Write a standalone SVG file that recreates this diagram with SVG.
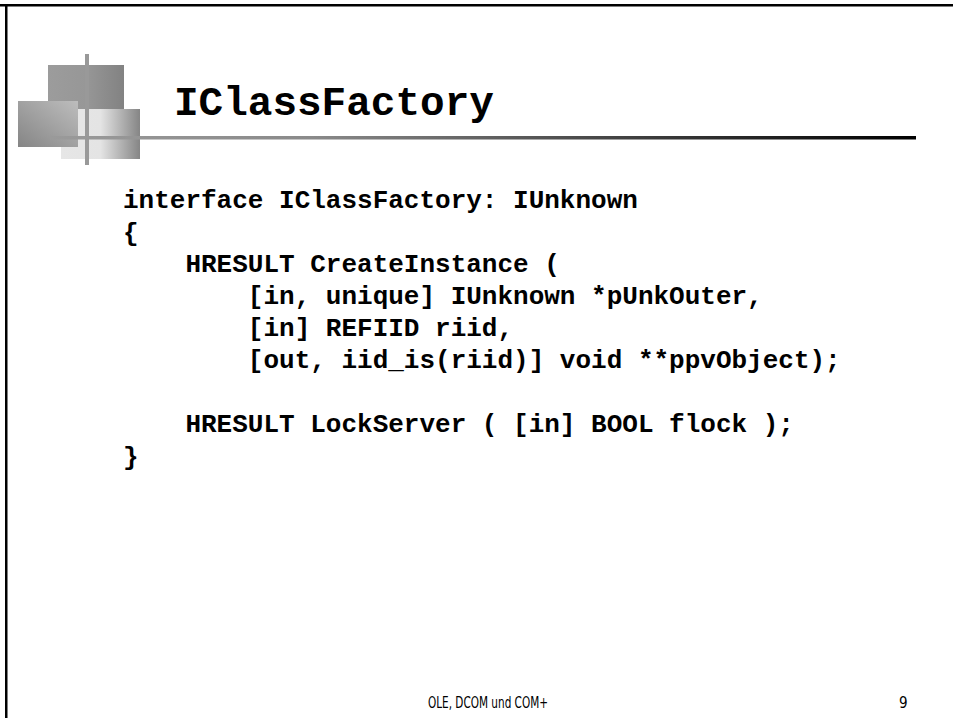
<svg xmlns="http://www.w3.org/2000/svg" width="953" height="718" viewBox="0 0 953 718">
<style>
.code{font-family:"Liberation Mono","Courier New",monospace;font-weight:bold;font-size:26px;fill:#000;white-space:pre}
.title{font-family:"Liberation Mono","Courier New",monospace;font-weight:bold;font-size:41px;fill:#000}
.foot{font-family:"DejaVu Sans Condensed","DejaVu Sans",sans-serif;font-size:15px;fill:#000}
</style>
<defs>
<linearGradient id="gTop" x1="0" y1="0" x2="1" y2="0">
<stop offset="0" stop-color="#9c9c9c"/><stop offset="0.5" stop-color="#979797"/><stop offset="1" stop-color="#828282"/>
</linearGradient>
<linearGradient id="gLeft" x1="0" y1="1" x2="1" y2="0">
<stop offset="0" stop-color="#858585"/><stop offset="1" stop-color="#bdbdbd"/>
</linearGradient>
<linearGradient id="gLight" x1="0" y1="0" x2="1" y2="0">
<stop offset="0" stop-color="#e6e6e6"/><stop offset="0.5" stop-color="#e4e4e4"/><stop offset="1" stop-color="#858585"/>
</linearGradient>
<linearGradient id="gLine" x1="50" y1="0" x2="916" y2="0" gradientUnits="userSpaceOnUse">
<stop offset="0" stop-color="#9a9a9a"/><stop offset="0.3" stop-color="#8a8a8a"/><stop offset="0.65" stop-color="#444"/><stop offset="1" stop-color="#000"/>
</linearGradient>
</defs>
<rect width="953" height="718" fill="#fff"/>
<g id="frame">
<rect x="0" y="4" width="953" height="2.5" fill="#000"/>
<rect x="5" y="4" width="2.5" height="714" fill="#000"/>
</g>
<g id="logo">
<rect x="48" y="65" width="76" height="45" fill="url(#gTop)"/>
<rect x="61" y="109" width="79" height="50" fill="url(#gLight)"/>
<rect x="18" y="101" width="60" height="46" fill="url(#gLeft)"/>
<rect x="85" y="54" width="4" height="111" fill="#999"/>
<rect x="50" y="136" width="866" height="3.5" fill="url(#gLine)"/>
</g>
<g id="title">
<text class="title" x="174" y="115">IClassFactory</text>
</g>
<g id="code">
<text class="code" x="123" y="208">interface IClassFactory: IUnknown</text>
<text class="code" x="123" y="241">{</text>
<text class="code" x="123" y="272">    HRESULT CreateInstance (</text>
<text class="code" x="123" y="304">        [in, unique] IUnknown *pUnkOuter,</text>
<text class="code" x="123" y="336">        [in] REFIID riid,</text>
<text class="code" x="123" y="368">        [out, iid_is(riid)] void **ppvObject);</text>
<text class="code" x="123" y="432">    HRESULT LockServer ( [in] BOOL flock );</text>
<text class="code" x="123" y="465">}</text>
</g>
<g id="footer">
<text class="foot" x="428" y="708" textLength="120" lengthAdjust="spacingAndGlyphs">OLE, DCOM und COM+</text>
<text class="foot" x="899" y="708">9</text>
</g>
</svg>
